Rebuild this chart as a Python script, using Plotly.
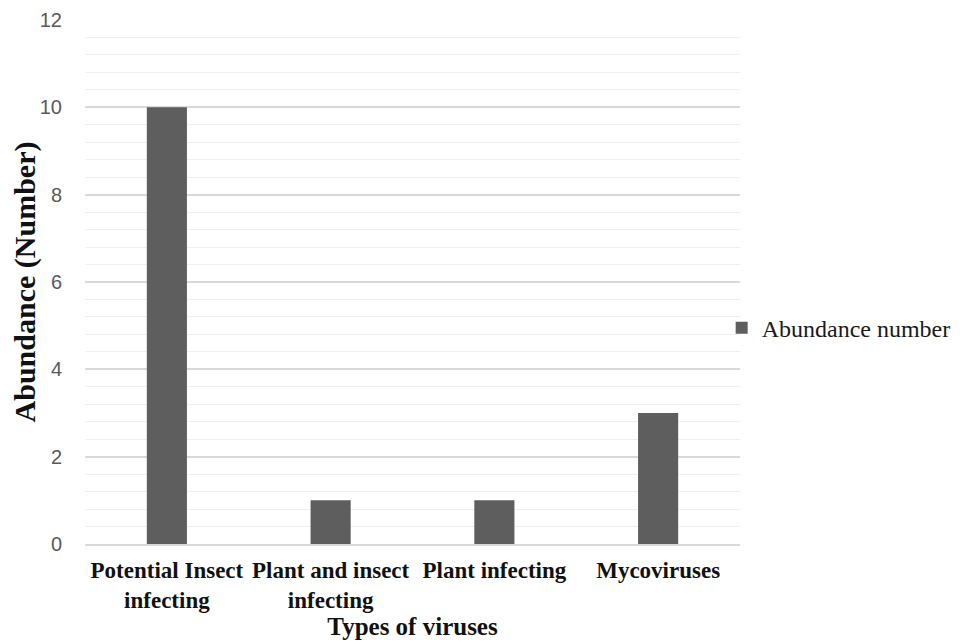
import plotly.graph_objects as go

categories = ["Potential Insect<br>infecting", "Plant and insect<br>infecting", "Plant infecting", "Mycoviruses"]
abundance = [10, 1, 1, 3]
series_name = "Abundance number"

fig = go.Figure()
fig.add_trace(go.Bar(
    x=categories, y=abundance, name=series_name,
    marker=dict(color="#5e5e5e", line=dict(width=0)),
    showlegend=True,
))

# page body has an 8px default margin, so the figure is 8px smaller
fig.update_layout(
    width=961, height=636,
    margin=dict(l=77, r=229, t=12, b=100),
    plot_bgcolor="white", paper_bgcolor="white",
    bargap=0.755,
    showlegend=True,
    legend=dict(x=0.972, y=0.412, xanchor="left", yanchor="middle",
                font=dict(family="Liberation Serif", size=24, color="#1a1a1a"),
                itemwidth=30, bgcolor="rgba(0,0,0,0)"),
    xaxis=dict(
        automargin=False,
        showgrid=False, showline=True, linecolor="#d9d9d9", linewidth=1.5,
        tickfont=dict(family="Liberation Serif", size=23, color="#111111"),
        ticks="", ticklabelstandoff=5,
        title=dict(text="<b>Types of viruses</b>", standoff=2,
                   font=dict(family="Liberation Serif", size=25, color="#111111")),
    ),
    yaxis=dict(
        automargin=False,
        range=[0, 12], dtick=2, tick0=0,
        showgrid=True, gridcolor="#d9d9d9", gridwidth=1.5,
        minor=dict(dtick=0.4, showgrid=True, gridcolor="#efefef", gridwidth=1.2),
        zeroline=False, showline=False,
        tickfont=dict(family="Liberation Sans", size=20, color="#595959"),
        ticklabelstandoff=22,
        title=dict(text="<b>Abundance (Number)</b>", standoff=14,
                   font=dict(family="Liberation Serif", size=30, color="#111111")),
    ),
)
fig.update_xaxes(tickprefix="<b>", ticksuffix="</b>")

fig.write_html("out.html")
